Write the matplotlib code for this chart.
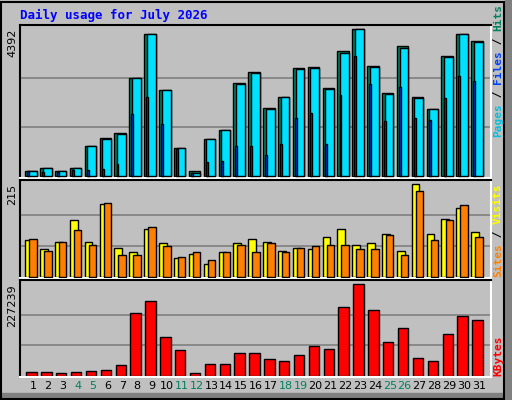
import matplotlib.pyplot as plt
from matplotlib.patches import Rectangle

days = list(range(1, 32))
weekends = [4, 5, 11, 12, 18, 19, 25, 26]

hits = [164, 244, 155, 244, 908, 1146, 1296, 2933, 4243, 2576, 849, 155, 1117, 1385, 2784, 3112,
        2040, 2367, 3231, 3261, 2635, 3737, 4392, 3290, 2486, 3886, 2367, 2010, 3588, 4243, 4035]
files = [160, 240, 150, 240, 905, 1120, 1270, 2930, 4240, 2570, 845, 110, 1110, 1380, 2750, 3080,
         2010, 2360, 3200, 3250, 2610, 3700, 4390, 3260, 2470, 3850, 2340, 2000, 3560, 4240, 4030]
pages = [155, 134, 134, 194, 194, 223, 372, 1861, 2367, 1563, 819, 104, 432, 462, 908, 908,
         640, 968, 1742, 1891, 968, 2427, 3588, 2754, 1653, 2665, 1742, 1682, 2337, 2993, 2843]
visits = [85, 64, 82, 133, 80, 168, 68, 57, 112, 78, 43, 52, 31, 57, 78, 89,
          82, 61, 66, 64, 92, 110, 75, 78, 99, 59, 215, 99, 134, 159, 105]
sites = [87, 61, 80, 108, 75, 171, 50, 50, 115, 71, 47, 57, 40, 57, 73, 57,
         78, 57, 68, 71, 73, 73, 64, 64, 96, 50, 199, 85, 131, 166, 92]
kbytes = [10781, 10781, 8293, 10781, 13269, 15757, 28196, 155079, 184934, 95370, 63027, 8293,
          30684, 30684, 58051, 58051, 43124, 38148, 53075, 72978, 65515, 170007, 227239,
          162543, 82930, 117761, 45612, 38148, 102833, 147615, 137664]

BG = "#c0c0c0"
W, H = 512, 400
fig = plt.figure(figsize=(5.12, 4.0), dpi=100, facecolor=BG)

# outer border and shadow
fig.patches.append(Rectangle((505 / W, 0), 7 / W, 1, transform=fig.transFigure, color="#808080"))
fig.patches.append(Rectangle((0, 0), 1, 7 / H, transform=fig.transFigure, color="#808080"))
fig.patches.append(Rectangle((1 / W, 1 / H), 503 / W, 397 / H, transform=fig.transFigure,
                             fill=False, ec="black", lw=1.5))

fig.text(20 / W, 1 - 15 / H, "Daily usage for July 2026", color="#0000ff",
         family="DejaVu Sans Mono", weight="bold", fontsize=9, va="center")


def panel(top, bottom, vmax, factor):
    ax = fig.add_axes([20 / W, 1 - bottom / H, 471 / W, (bottom - top) / H])
    ax.set_facecolor(BG)
    ax.set_xlim(0.125, 31.81)
    ax.set_ylim(-0.012 * vmax, vmax * factor)
    for f in (1 / 3, 2 / 3):
        ax.axhline(vmax * f, color="#808080", lw=1.2, zorder=0)
    ax.set_yticks([])
    ax.set_xticks([])
    for s in ax.spines.values():
        s.set_linewidth(1.5)
    ax.spines["bottom"].set_color("white")
    ax.spines["right"].set_color("white")
    fig.text(12 / W, 1 - (top + 4) / H, f"{vmax}", rotation=90, fontsize=8,
             va="top", ha="center")
    return ax


def bars(ax, lo, hi, vals, color, z):
    ax.bar([d + lo for d in days], vals, width=hi - lo, align="edge", color=color,
           ec="black", lw=1, zorder=z)


ax1 = panel(25, 178, max(hits), 1.03)
bars(ax1, -0.52, 0.25, hits, "#008060", 2)
bars(ax1, -0.34, 0.25, files, "#00e0ff", 3)
bars(ax1, -0.38, -0.25, pages, "#0040ff", 4)

ax2 = panel(180, 278, max(visits), 1.045)
bars(ax2, -0.52, 0.0, visits, "#ffff00", 2)
bars(ax2, -0.25, 0.25, sites, "#ff8000", 3)

ax3 = panel(280, 377, max(kbytes), 1.047)
bars(ax3, -0.45, 0.25, kbytes, "#ff0000", 2)
for d in days:
    ax3.text(d, -0.09, str(d), transform=ax3.get_xaxis_transform(), ha="center", va="center",
             fontsize=8, color="#008060" if d in weekends else "black")

mono = dict(family="DejaVu Sans Mono", weight="bold", fontsize=8, rotation=90,
            ha="center", va="bottom")


def side(parts, ybottom):
    y = ybottom
    for txt, col in parts:
        t = fig.text(498 / W, 1 - y / H, txt, color=col, **mono)
        y -= len(txt) * 6.6


side([("Pages", "#00c0e0"), (" / ", "black"), ("Files", "#0040ff"), (" / ", "black"),
      ("Hits", "#008060")], 137)
side([("Sites", "#ff8000"), (" / ", "black"), ("Visits", "#ffff00")], 277)
side([("KBytes", "#ff0000")], 376)

fig.savefig("out.png", dpi=100, facecolor=BG)
